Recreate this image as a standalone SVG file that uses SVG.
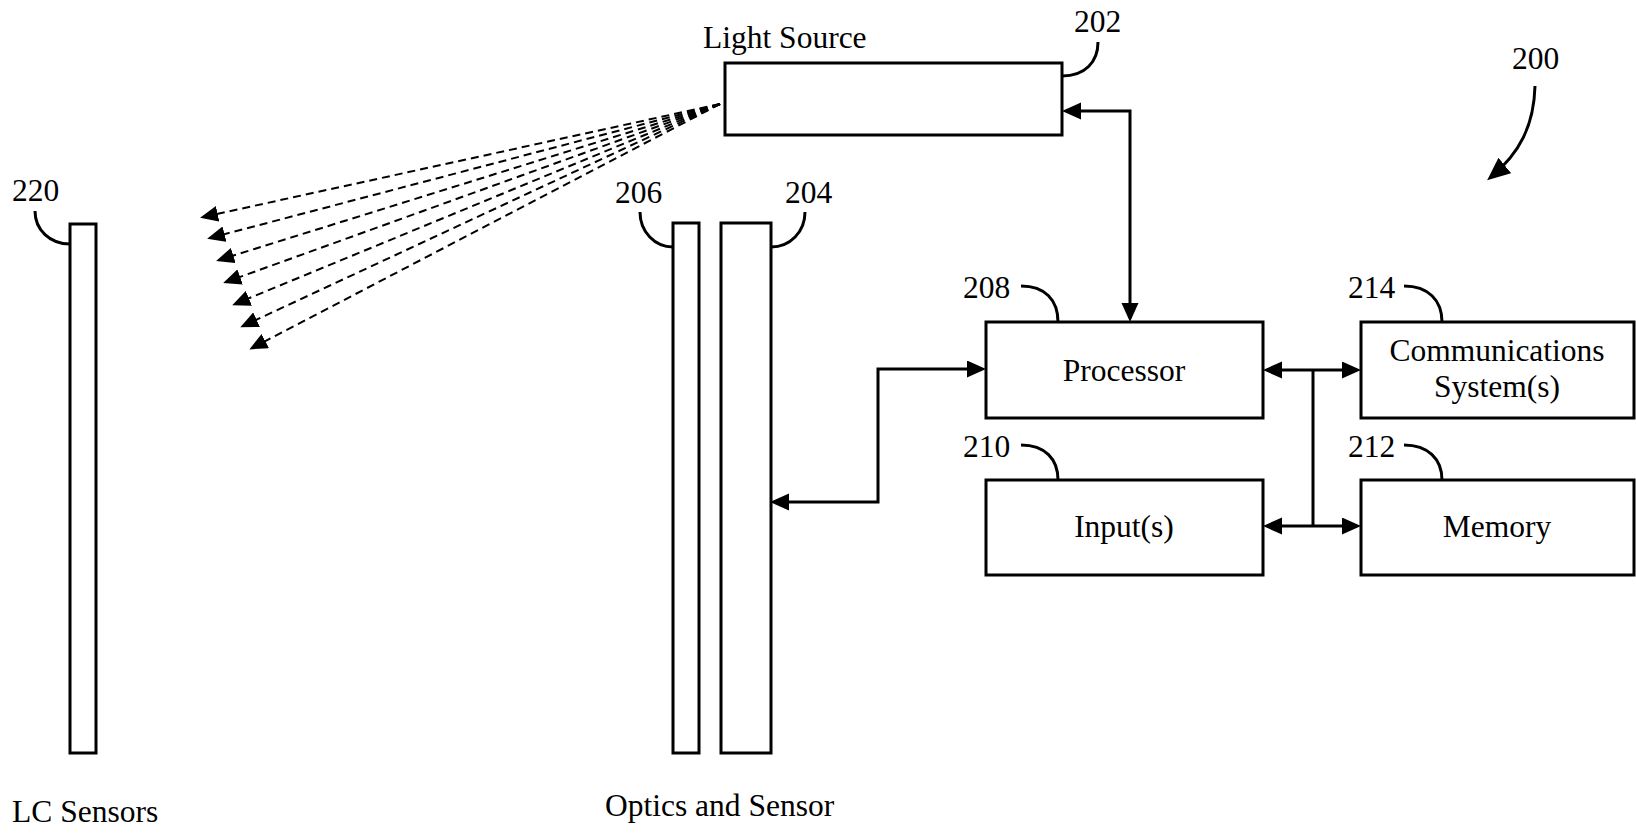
<svg xmlns="http://www.w3.org/2000/svg" width="1636" height="834" viewBox="0 0 1636 834">
<style>
text{font-family:"Liberation Serif","Times New Roman",serif;font-size:31.5px;fill:#000}
.c{text-anchor:middle}
.box{fill:#fff;stroke:#000;stroke-width:3}
.lead{fill:none;stroke:#000;stroke-width:3}
.conn{fill:none;stroke:#000;stroke-width:3}
.ray{fill:none;stroke:#000;stroke-width:2;stroke-dasharray:8 5}
</style>
<defs>
<marker id="ah" markerUnits="userSpaceOnUse" markerWidth="22" markerHeight="18" refX="15" refY="8.5" orient="auto-start-reverse"><path d="M0,0 L19,8.5 L0,17 z" fill="#000"/></marker>
<marker id="bh" markerUnits="userSpaceOnUse" markerWidth="26" markerHeight="22" refX="18" refY="10" orient="auto"><path d="M0,0 L23,10 L0,20 z" fill="#000"/></marker>
<marker id="rh" markerUnits="userSpaceOnUse" markerWidth="20" markerHeight="16" refX="15" refY="8" orient="auto"><path d="M0,0 L18,8 L0,16 z" fill="#000"/></marker>
</defs>
<rect width="1636" height="834" fill="#fff"/>

<g id="light-source">
<rect class="box" x="725" y="63" width="337" height="72"/>
<text x="703" y="48">Light Source</text>
<path class="lead" d="M1098,42 C1098,62 1085,76 1062,76"/>
<text x="1074" y="32">202</text>
</g>

<g id="lc-sensors">
<rect class="box" x="70" y="224" width="26" height="529"/>
<path class="lead" d="M35,211 C35,230 50,244 70,244"/>
<text x="12" y="201">220</text>
<text x="12" y="822">LC Sensors</text>
</g>

<g id="optics-206">
<rect class="box" x="673" y="223" width="26" height="530"/>
<path class="lead" d="M640,212 C640,232 655,247 673,247"/>
<text x="615" y="203">206</text>
</g>

<g id="sensor-204">
<rect class="box" x="721" y="223" width="50" height="530"/>
<path class="lead" d="M805,212 C805,232 790,247 771,247"/>
<text x="785" y="203">204</text>
<text x="605" y="816">Optics and Sensor</text>
</g>

<g id="processor">
<rect class="box" x="986" y="322" width="277" height="96"/>
<text class="c" x="1124" y="381">Processor</text>
<path class="lead" d="M1021,286 C1045,286 1058,300 1058,322"/>
<text x="963" y="298">208</text>
</g>

<g id="comms">
<rect class="box" x="1361" y="322" width="273" height="96"/>
<text class="c" x="1497" y="361">Communications</text>
<text class="c" x="1497" y="397">System(s)</text>
<path class="lead" d="M1404,286 C1428,286 1442,300 1442,322"/>
<text x="1348" y="298">214</text>
</g>

<g id="inputs">
<rect class="box" x="986" y="480" width="277" height="95"/>
<text class="c" x="1124" y="537">Input(s)</text>
<path class="lead" d="M1021,445 C1045,445 1058,459 1058,480"/>
<text x="963" y="457">210</text>
</g>

<g id="memory">
<rect class="box" x="1361" y="480" width="273" height="95"/>
<text class="c" x="1497" y="537">Memory</text>
<path class="lead" d="M1404,445 C1428,445 1442,459 1442,480"/>
<text x="1348" y="457">212</text>
</g>

<g id="system-200">
<text x="1512" y="69">200</text>
<path class="lead" d="M1535,86 C1534,125 1520,153 1491,177" marker-end="url(#bh)"/>
</g>

<g id="connectors">
<path class="conn" d="M1066,111 H1130 V318" marker-start="url(#ah)" marker-end="url(#ah)"/>
<path class="conn" d="M774,502 H878 V369 H982" marker-start="url(#ah)" marker-end="url(#ah)"/>
<path class="conn" d="M1267,370 H1357" marker-start="url(#ah)" marker-end="url(#ah)"/>
<path class="conn" d="M1267,526 H1357" marker-start="url(#ah)" marker-end="url(#ah)"/>
<path class="conn" d="M1313,370 V526"/>
</g>

<g id="light-rays">
<path class="ray" d="M720,104 L203,217" marker-end="url(#rh)"/>
<path class="ray" d="M720,104 L210,238" marker-end="url(#rh)"/>
<path class="ray" d="M720,104 L219,260" marker-end="url(#rh)"/>
<path class="ray" d="M720,104 L226,282" marker-end="url(#rh)"/>
<path class="ray" d="M720,104 L235,304" marker-end="url(#rh)"/>
<path class="ray" d="M720,104 L243,326" marker-end="url(#rh)"/>
<path class="ray" d="M720,104 L252,348" marker-end="url(#rh)"/>
</g>
</svg>
